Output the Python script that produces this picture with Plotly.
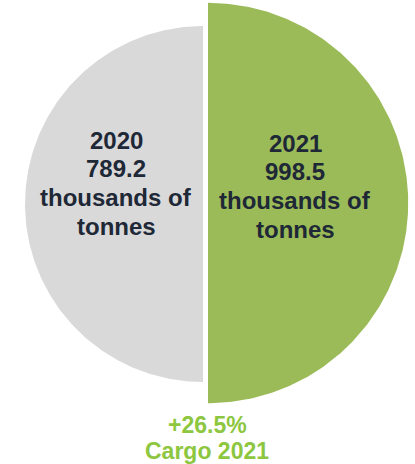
import numpy as np
import plotly.graph_objects as go

# Cargo handled (thousands of tonnes)
years = ["2020", "2021"]
cargo = [789.2, 998.5]
colors = ["#d9d9d9", "#9bbb59"]
unit_lines = ["thousands of", "tonnes"]
caption_label = "Cargo 2021"

W, H = 415, 464
FONT = "Liberation Sans, Arial, sans-serif"
LINE_STEP = 28.8

# half-disc areas proportional to the value
scale = 178 / np.sqrt(cargo[0])
radii = [scale * np.sqrt(v) for v in cargo]
centers = [(203, 204), (208, 203)]
half_angles = [(90, 270), (-90, 90)]
label_x = [116, 295]
label_top = [140, 143]

fig = go.Figure()
for i in range(2):
    cx, cy = centers[i]
    a0, a1 = half_angles[i]
    t = np.radians(np.linspace(a0, a1, 240))
    xs = np.concatenate([[cx], cx + radii[i] * np.cos(t), [cx]])
    ys = np.concatenate([[cy], cy - radii[i] * np.sin(t), [cy]])
    fig.add_trace(go.Scatter(
        x=xs, y=ys, mode="lines", fill="toself",
        fillcolor=colors[i], line=dict(width=0, color=colors[i]),
        hoverinfo="skip", showlegend=False,
    ))
    lines = [years[i], f"{cargo[i]:.1f}"] + unit_lines
    for j, txt in enumerate(lines):
        fig.add_annotation(
            x=label_x[i], y=label_top[i] + j * LINE_STEP, xref="x", yref="y",
            text=f"<b>{txt}</b>", showarrow=False, align="center",
            font=dict(family=FONT, size=24, color="#1e2836"),
        )

growth = (cargo[1] / cargo[0] - 1) * 100
for j, txt in enumerate([f"+{growth:.1f}%", caption_label]):
    fig.add_annotation(
        x=207, y=425 + j * 26, xref="x", yref="y",
        text=f"<b>{txt}</b>", showarrow=False, align="center",
        font=dict(family=FONT, size=23, color="#8dc63f"),
    )

fig.update_layout(
    width=W, height=H,
    margin=dict(l=0, r=0, t=0, b=0),
    paper_bgcolor="white", plot_bgcolor="white",
    xaxis=dict(range=[0, W], visible=False, fixedrange=True),
    yaxis=dict(range=[H, 0], visible=False, fixedrange=True),
)

fig.write_html("out.html")
